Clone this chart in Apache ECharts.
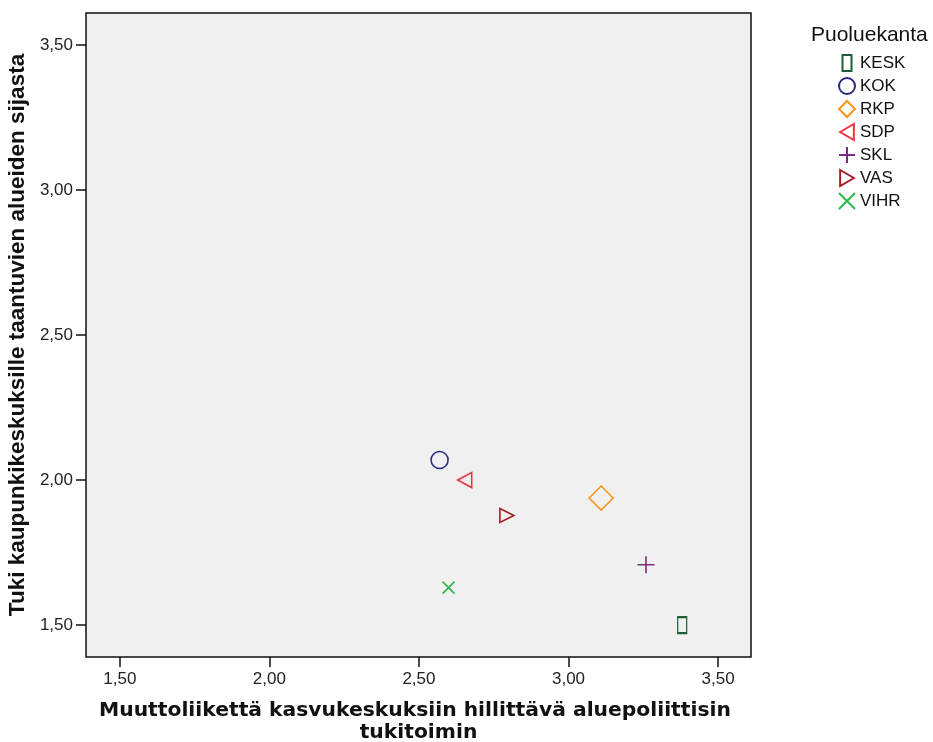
<!DOCTYPE html>
<html><head><meta charset="utf-8">
<script src="https://cdn.jsdelivr.net/npm/echarts@6/dist/echarts.min.js"></script>
<style>html,body{margin:0;padding:0;background:#fff}#c{width:933px;height:742px}</style>
</head><body><div id="c"></div>
<script>
const parties = ['KESK','KOK','RKP','SDP','SKL','VAS','VIHR'];
const xValues = [3.38, 2.569, 3.109, 2.653, 3.259, 2.794, 2.599];
const yValues = [1.50, 2.069, 1.938, 2.00, 1.708, 1.878, 1.629];
const tickValues = [1.5, 2.0, 2.5, 3.0, 3.5];
const colors = ['#1d5e37','#2b2d7c','#f7941d','#e8353d','#7d2a80','#a51e26','#2db64b'];
const symbols = [
  'path://M0,0 L9,0 L9,16 L0,16 Z',
  'circle',
  'path://M10,0 L20,10 L10,20 L0,10 Z',
  'path://M0,7 L12,0 L12,14 Z',
  'path://M7,0 L7,14 M0,7 L14,7',
  'path://M0,0 L12,7 L0,14 Z',
  'path://M0,0 L12,12 M12,0 L0,12'
];
const sizes = [[9,16],17,[24,24],[14,15],[17,17],[14,14],[12,12]];
const fmt = v => v.toFixed(2).replace('.', ',');
const series = parties.map((p,i)=>({
  name: p, type: 'scatter',
  symbol: symbols[i], symbolSize: sizes[i],
  data: [[xValues[i], yValues[i]]],
  itemStyle: {color: 'rgba(0,0,0,0)', borderColor: colors[i], borderWidth: 1.6, opacity: 1},
  emphasis: {disabled: true}
}));
const chart = echarts.init(document.getElementById('c'), null, {renderer:'canvas'});
chart.setOption({
  animation: false,
  textStyle: {fontFamily: 'Liberation Sans, Arial, sans-serif'},
  grid: {left: 86, top: 13, right: 182, bottom: 85, outerBoundsMode: 'none', containLabel: false,
         show: true, backgroundColor: '#f0f0f0', borderColor: '#111', borderWidth: 1.5},
  title: {text: 'Puoluekanta', left: 806, top: 20, textStyle: {fontSize: 21, fontWeight: 'normal', color: '#111'}},
  legend: {
    orient: 'vertical', left: 833, top: 49, itemGap: 5, itemWidth: 16, itemHeight: 16,
    data: parties, textStyle: {fontSize: 17, color: '#111'}, selectedMode: false
  },
  xAxis: {
    type: 'value', min: 1.387, max: 3.61,
    name: 'Muuttoliikettä kasvukeskuksiin hillittävä aluepoliittisin \ntukitoimin',
    nameLocation: 'middle', nameGap: 42,
    nameTextStyle: {fontSize: 20.3, fontWeight: 'bold', color: '#111', lineHeight: 22.5, fontFamily: 'DejaVu Sans'},
    axisLine: {show: false},
    axisTick: {show: true, length: 10, inside: false, customValues: tickValues, lineStyle: {color: '#111', width: 1.5}},
    axisLabel: {customValues: tickValues, formatter: fmt, fontSize: 17, color: '#222', margin: 14},
    splitLine: {show: false}
  },
  yAxis: {
    type: 'value', min: 1.39, max: 3.61,
    name: 'Tuki kaupunkikeskuksille taantuvien alueiden sijasta',
    nameLocation: 'middle', nameGap: 50, nameRotate: 90,
    nameTextStyle: {fontSize: 22.5, fontWeight: 'bold', color: '#111'},
    axisLine: {show: false},
    axisTick: {show: true, length: 10, customValues: tickValues, lineStyle: {color: '#111', width: 1.5}},
    axisLabel: {customValues: tickValues, formatter: fmt, fontSize: 17, color: '#222', margin: 13},
    splitLine: {show: false}
  },
  series: series
});
</script></body></html>
